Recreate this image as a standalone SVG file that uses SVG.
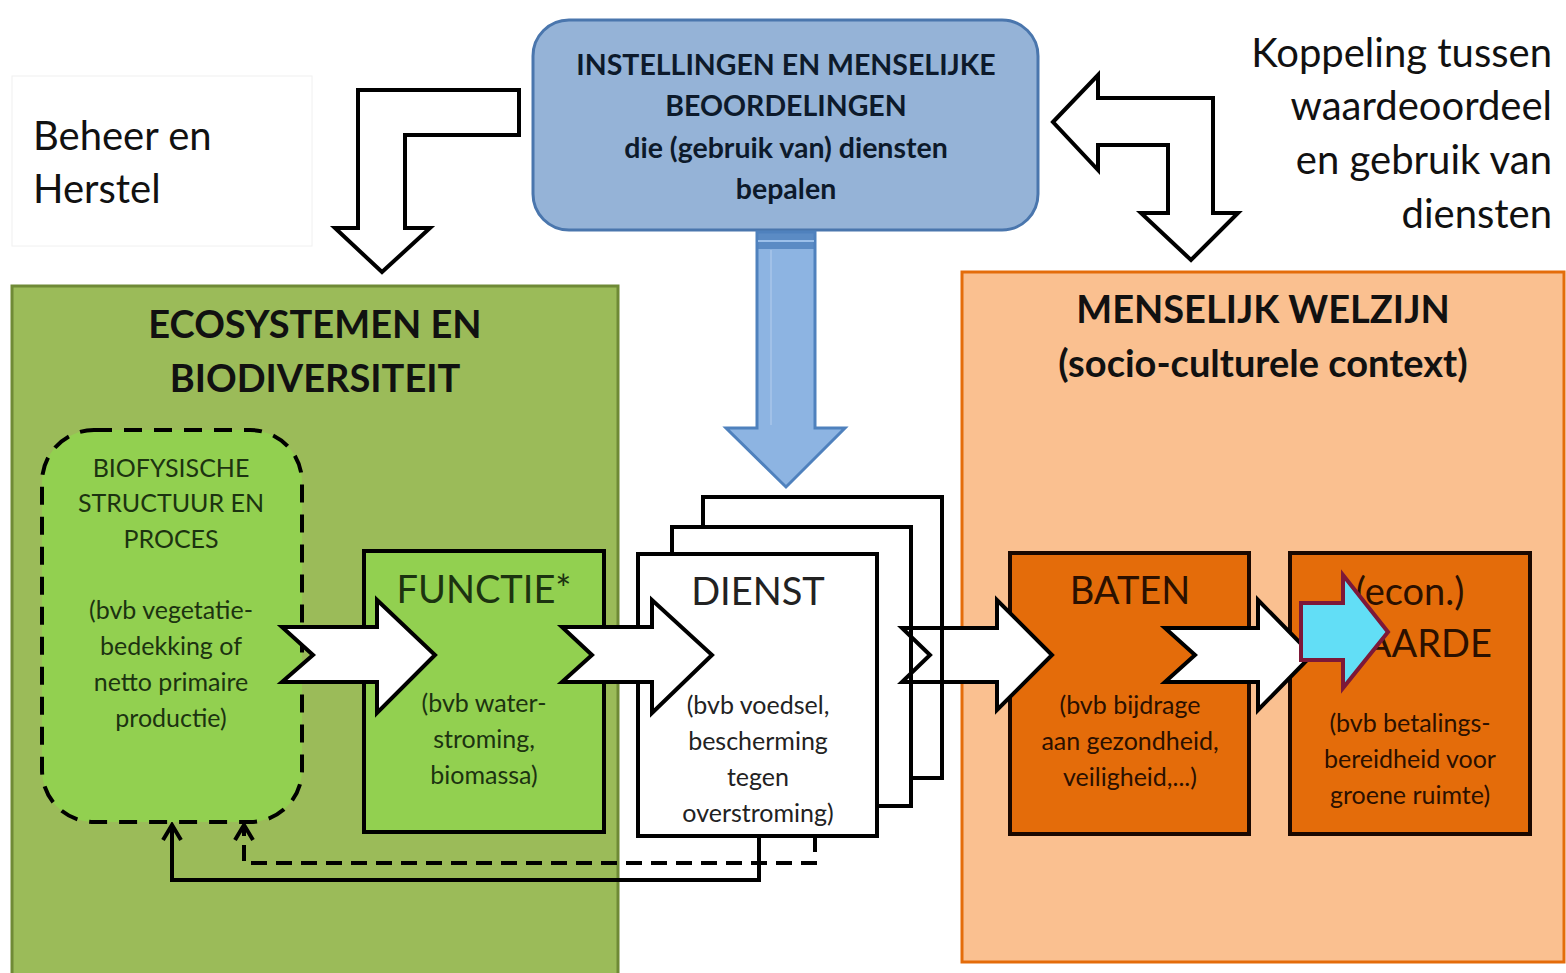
<svg xmlns="http://www.w3.org/2000/svg" width="1566" height="973" viewBox="0 0 1566 973">
<defs>
<style>
text{font-family:Lato,"Open Sans","Liberation Sans",sans-serif;text-anchor:middle;fill:#111}
.big{font-size:40px}
.title{font-size:38px;font-weight:bold}
.btxt{font-size:28.5px;font-weight:bold;fill:#0d1a2b}
.sm{font-size:25px}
.gt{fill:#1c3310}
.ot{fill:#2b1000}
.hdr{font-size:38px}
.wa{fill:#fff;stroke:#000;stroke-width:4;stroke-linejoin:miter}
.box{stroke:#000;stroke-width:4}
.fb{fill:none;stroke:#000;stroke-width:4}
</style>
<marker id="open" viewBox="0 0 20 22" refX="17" refY="11" markerWidth="20" markerHeight="22" markerUnits="userSpaceOnUse" orient="auto">
<path d="M2,2 L17,11 L2,20" fill="none" stroke="#000" stroke-width="4"/>
</marker>
</defs>
<rect width="1566" height="973" fill="#fff"/>

<g id="beheer-label">
<rect x="12" y="76" width="300" height="170" fill="#fff" stroke="#f0f0f0" stroke-width="1"/>
<text class="big" x="33" y="150" style="text-anchor:start">Beheer en</text>
<text class="big" x="33" y="203" style="text-anchor:start">Herstel</text>
</g>

<g id="koppeling-label">
<text class="big" x="1552" y="67" style="text-anchor:end">Koppeling tussen</text>
<text class="big" x="1552" y="120" style="text-anchor:end">waardeoordeel</text>
<text class="big" x="1552" y="174" style="text-anchor:end">en gebruik van</text>
<text class="big" x="1552" y="228" style="text-anchor:end">diensten</text>
</g>

<g id="ecosystemen">
<rect x="12" y="286" width="606" height="700" fill="#9bbb59" stroke="#6f8a36" stroke-width="3"/>
<text class="title" x="315" y="338">ECOSYSTEMEN EN</text>
<text class="title" x="315" y="392">BIODIVERSITEIT</text>
</g>

<g id="welzijn">
<rect x="962" y="272" width="602" height="690" fill="#fac090" stroke="#e46c0a" stroke-width="3"/>
<text class="title" x="1263" y="323">MENSELIJK WELZIJN</text>
<text class="title" x="1263" y="377">(socio-culturele context)</text>
</g>

<g id="instellingen">
<rect x="533" y="20" width="505" height="210" rx="36" fill="#95b3d7" stroke="#4a76ad" stroke-width="3"/>
<text class="btxt" x="786" y="75">INSTELLINGEN EN MENSELIJKE</text>
<text class="btxt" x="786" y="116">BEOORDELINGEN</text>
<text class="btxt" x="786" y="158">die (gebruik van) diensten</text>
<text class="btxt" x="786" y="199">bepalen</text>
</g>

<g id="biofysisch">
<rect x="42" y="430" width="260" height="392" rx="52" fill="#92d050" stroke="#000" stroke-width="4" stroke-dasharray="18 12"/>
<text class="sm gt" x="171" y="477">BIOFYSISCHE</text>
<text class="sm gt" x="171" y="512">STRUCTUUR EN</text>
<text class="sm gt" x="171" y="548">PROCES</text>
<text class="sm gt" x="171" y="619">(bvb vegetatie-</text>
<text class="sm gt" x="171" y="655">bedekking of</text>
<text class="sm gt" x="171" y="691">netto primaire</text>
<text class="sm gt" x="171" y="727">productie)</text>
</g>

<g id="functie">
<rect class="box" x="364" y="551" width="240" height="281" fill="#92d050"/>
<text class="hdr gt" x="484" y="603">FUNCTIE*</text>
<text class="sm gt" x="484" y="712">(bvb water-</text>
<text class="sm gt" x="484" y="748">stroming,</text>
<text class="sm gt" x="484" y="784">biomassa)</text>
</g>

<g id="dienst">
<rect class="box" x="703" y="497" width="239" height="281" fill="#fff"/>
<rect class="box" x="672" y="527" width="239" height="279" fill="#fff"/>
<rect class="box" x="638" y="554" width="239" height="282" fill="#fff"/>
<text class="hdr" x="758" y="605" style="fill:#222">DIENST</text>
<text class="sm" x="758" y="714" style="fill:#222">(bvb voedsel,</text>
<text class="sm" x="758" y="750" style="fill:#222">bescherming</text>
<text class="sm" x="758" y="786" style="fill:#222">tegen</text>
<text class="sm" x="758" y="822" style="fill:#222">overstroming)</text>
</g>

<g id="baten">
<rect x="1010" y="553" width="239" height="281" fill="#e46c0a" stroke="#1a0800" stroke-width="4"/>
<text class="hdr ot" x="1130" y="604">BATEN</text>
<text class="sm ot" x="1130" y="714">(bvb bijdrage</text>
<text class="sm ot" x="1130" y="750">aan gezondheid,</text>
<text class="sm ot" x="1130" y="786">veiligheid,...)</text>
</g>

<g id="waarde">
<rect x="1290" y="553" width="240" height="281" fill="#e46c0a" stroke="#1a0800" stroke-width="4"/>
<text class="hdr ot" x="1410" y="605">(econ.)</text>
<text class="hdr ot" x="1410" y="657">WAARDE</text>
<text class="sm ot" x="1410" y="732">(bvb  betalings-</text>
<text class="sm ot" x="1410" y="768">bereidheid voor</text>
<text class="sm ot" x="1410" y="804">groene ruimte)</text>
</g>

<g id="connectors">
<path class="wa" d="M519,90 L358,90 L358,228 L335,228 L382,272 L430,228 L405,228 L405,135 L519,135 Z"/>
<path class="wa" d="M1053,122 L1098,75 L1098,98 L1213,98 L1213,213 L1238,213 L1191,260 L1141,213 L1168,213 L1168,145 L1098,145 L1098,170 Z"/>
<path d="M757,232 L815,232 L815,428 L845,428 L786,487 L726,428 L757,428 Z" fill="#8db4e2" stroke="#4f81bd" stroke-width="3"/>
<rect x="758" y="233" width="56" height="16" fill="#4f81bd" opacity="0.8"/>
<line x1="758" y1="241" x2="814" y2="241" stroke="#9cc0ea" stroke-width="2"/>
<line x1="771" y1="250" x2="771" y2="425" stroke="#a9c6ea" stroke-width="1.5"/>

<path class="wa" d="M282,627 L377,627 L377,600 L435,655 L377,713 L377,682 L282,682 L313,655 Z"/>
<path class="wa" d="M562,627 L652,627 L652,600 L712,655 L652,713 L652,682 L562,682 L592,655 Z"/>
<path class="wa" d="M902,628 L997,628 L997,600 L1052,655 L997,710 L997,682 L902,682 L930,655 Z"/>
<line x1="911" y1="628" x2="911" y2="682" stroke="#000" stroke-width="4"/>
<line x1="942" y1="628" x2="942" y2="682" stroke="#000" stroke-width="4"/>
<path class="wa" d="M1165,628 L1258,628 L1258,600 L1312,655 L1258,710 L1258,682 L1165,682 L1195,655 Z"/>
<path d="M1301,603 L1343,603 L1343,575 L1388,632 L1343,688 L1343,660 L1301,660 Z" fill="#62def6" stroke="#7d1838" stroke-width="4"/>

<path class="fb" d="M759,836 L759,880 L172,880 L172,825" marker-end="url(#open)"/>
<path class="fb" d="M815,836 L815,863 L244,863 L244,825" stroke-dasharray="16 9" marker-end="url(#open)"/>
</g>
</svg>
